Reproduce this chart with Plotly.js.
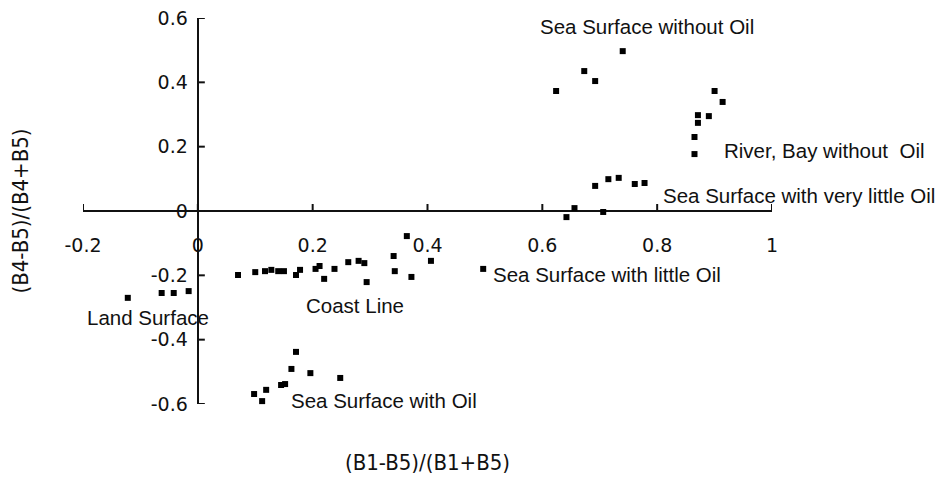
<!DOCTYPE html>
<html><head><meta charset="utf-8">
<script src="https://cdn.plot.ly/plotly-3.0.1.min.js"></script>
<style>html,body{margin:0;padding:0;background:#fff}</style>
</head><body><div id="chart" style="width:942px;height:481px"></div>
<script>
// Data
const noOilX = [0.624, 0.673, 0.692, 0.740];
const noOilY = [0.373, 0.435, 0.404, 0.497];

const riverX = [0.900, 0.914, 0.871, 0.890, 0.871, 0.865, 0.865];
const riverY = [0.373, 0.339, 0.298, 0.295, 0.274, 0.230, 0.177];

const veryLittleX = [0.692, 0.715, 0.733, 0.761, 0.778, 0.642, 0.656, 0.706];
const veryLittleY = [0.078, 0.099, 0.103, 0.084, 0.087, -0.019, 0.009, -0.003];

const littleX = [0.497];
const littleY = [-0.180];

const coastX = [0.070, 0.100, 0.117, 0.128, 0.140, 0.150, 0.171, 0.178, 0.205, 0.212, 0.220,
                0.238, 0.262, 0.280, 0.290, 0.294, 0.341, 0.343, 0.364, 0.372, 0.406];
const coastY = [-0.199, -0.190, -0.187, -0.183, -0.187, -0.187, -0.199, -0.183, -0.180, -0.171, -0.211,
                -0.180, -0.159, -0.155, -0.162, -0.221, -0.140, -0.187, -0.078, -0.205, -0.155];

const landX = [-0.122, -0.063, -0.042, -0.016];
const landY = [-0.270, -0.255, -0.255, -0.249];

const oilX = [0.171, 0.163, 0.196, 0.248, 0.145, 0.152, 0.119, 0.098, 0.112];
const oilY = [-0.438, -0.491, -0.504, -0.519, -0.541, -0.538, -0.556, -0.569, -0.591];

const tickVals = [-0.2, 0, 0.2, 0.4, 0.6, 0.8, 1];
const tickText = ['-0.2', '0', '0.2', '0.4', '0.6', '0.8', '1'];
const yTickVals = [-0.6, -0.4, -0.2, 0, 0.2, 0.4, 0.6];
const yTickText = ['-0.6', '-0.4', '-0.2', '0', '0.2', '0.4', '0.6'];

const labelText = ['Sea Surface without Oil', 'River, Bay without\u00a0 Oil', 'Sea Surface with very little Oil',
                   'Sea Surface with little Oil', 'Coast Line', 'Land Surface', 'Sea Surface with Oil'];
const labelX = [0.594, 0.914, 0.808, 0.512, 0.187, -0.194, 0.161];
const labelY = [0.575, 0.187, 0.047, -0.196, -0.295, -0.330, -0.588];

const groups = [
  ['Sea Surface without Oil', noOilX, noOilY],
  ['River, Bay without Oil', riverX, riverY],
  ['Sea Surface with very little Oil', veryLittleX, veryLittleY],
  ['Sea Surface with little Oil', littleX, littleY],
  ['Coast Line', coastX, coastY],
  ['Land Surface', landX, landY],
  ['Sea Surface with Oil', oilX, oilY]
];

const traces = groups.map(g => ({
  type: 'scatter', mode: 'markers', name: g[0], x: g[1], y: g[2],
  marker: {symbol: 'square', size: 6, color: '#000'},
  showlegend: false, cliponaxis: false
}));

const annFont = {family: 'Liberation Sans, Arial, sans-serif', size: 20.5, color: '#111'};
const annotations = labelText.map((t, i) => ({
  text: t, x: labelX[i], y: labelY[i], xref: 'x', yref: 'y',
  xanchor: 'left', yanchor: 'middle', showarrow: false, font: annFont, borderpad: 0
}));

// axis tick marks (short, pointing inward from the zero-crossing axes)
const axisColor = '#111';
const shapes = [];
tickVals.forEach(v => shapes.push({
  type: 'line', xref: 'x', yref: 'y', ysizemode: 'pixel', yanchor: 0,
  x0: v, x1: v, y0: 0, y1: 7, line: {color: axisColor, width: 2}
}));
yTickVals.forEach(v => shapes.push({
  type: 'line', xref: 'x', yref: 'y', xsizemode: 'pixel', xanchor: 0,
  x0: 0, x1: 7, y0: v, y1: v, line: {color: axisColor, width: 2}
}));

const tickFont = {family: 'DejaVu Sans, Verdana, sans-serif', size: 19, color: '#111'};
const titleFont = {family: 'DejaVu Sans Condensed, Liberation Sans Narrow, Arial, sans-serif', size: 22, color: '#111'};

const layout = {
  width: 942, height: 481,
  margin: {l: 83, r: 170, t: 18, b: 77},
  paper_bgcolor: '#fff', plot_bgcolor: '#fff',
  showlegend: false,
  xaxis: {
    range: [-0.2, 1.0], anchor: 'free', position: 0.5,
    showline: false, ticks: '',
    tickvals: tickVals, ticktext: tickText, tickfont: tickFont,
    ticklabelstandoff: 21,
    showgrid: false, zeroline: true, zerolinecolor: axisColor, zerolinewidth: 2,
    title: {text: '(B1-B5)/(B1+B5)', font: titleFont, standoff: 199}
  },
  yaxis: {
    range: [-0.6, 0.6], anchor: 'free', position: 0.2 / 1.2,
    showline: false, ticks: '',
    tickvals: yTickVals, ticktext: yTickText, tickfont: tickFont,
    ticklabelstandoff: 10,
    showgrid: false, zeroline: true, zerolinecolor: axisColor, zerolinewidth: 2,
    title: {text: '(B4-B5)/(B4+B5)', font: titleFont, standoff: 115}
  },
  shapes: shapes,
  annotations: annotations
};

Plotly.newPlot('chart', traces, layout, {displayModeBar: false, staticPlot: true});
</script>
</body></html>
